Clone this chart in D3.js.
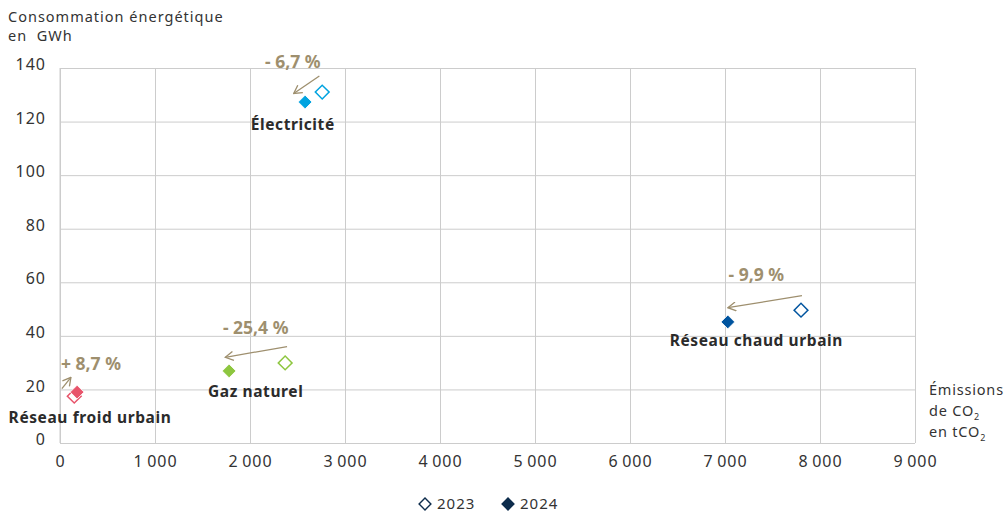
<!DOCTYPE html>
<html>
<head>
<meta charset="utf-8">
<script src="https://cdn.jsdelivr.net/npm/d3@7"></script>
<style>
  body { margin: 0; background: #fff; }
  svg text { font-family: "Noto Sans", "Open Sans", sans-serif; white-space: pre; }
</style>
</head>
<body>
<svg id="chart" width="1006" height="513"></svg>
<script>
// Energy sources and their values (x = CO2 emissions in tCO2, y = consumption in GWh)
var sources = ["Électricité", "Réseau chaud urbain", "Gaz naturel", "Réseau froid urbain"];
var colors = ["#00a3e0", "#00549f", "#8dc63f", "#e8546b"];
var emissions2023 = [2760, 7800, 2370, 150];
var consumption2023 = [131, 49.6, 29.9, 17.5];
var emissions2024 = [2580, 7030, 1780, 180];
var consumption2024 = [127.3, 45.2, 26.9, 19.0];
var changes = ["- 6,7 %", "- 9,9 %", "- 25,4 %", "+ 8,7 %"];
var xTicks = [0, 1000, 2000, 3000, 4000, 5000, 6000, 7000, 8000, 9000];
var yTicks = [0, 20, 40, 60, 80, 100, 120, 140];
var years = ["2023", "2024"];

// annotation arrows (data units): from -> to
var arrowFrom = [[2730, 137], [7810, 55], [2390, 36], [20, 20.3]];
var arrowTo = [[2460, 130.5], [7030, 50.5], [1740, 32], [115, 24.5]];
// name / change label positions (data units)
var nameAt = [[2450, 116.8], [7330, 36.1], [2060, 17.2], [316, 7.5]];
var changeAt = [[2450, 140], [7330, 60.6], [2060, 40.8], [326, 27.1]];

var svg = d3.select("#chart");
var plotLeft = 60, plotRight = 915, plotTop = 68, plotBottom = 443;

var x = d3.scaleLinear().domain([0, 9000]).range([plotLeft, plotRight]);
var y = d3.scaleLinear().domain([0, 140]).range([plotBottom, plotTop]);
var fmt = function(d) { return d3.format(",")(d).replace(",", "\u2009"); };

// grid
svg.append("g")
    .attr("transform", "translate(0," + plotBottom + ")")
    .call(d3.axisBottom(x).tickValues(xTicks).tickSize(-(plotBottom - plotTop)).tickFormat(fmt))
    .call(function(g) {
        g.select(".domain").remove();
        g.selectAll(".tick line").attr("stroke", "#cccccc");
        g.selectAll(".tick text").attr("y", 13).attr("dy", "0.71em").attr("font-size", 16)
            .attr("letter-spacing", 1).attr("fill", "#333");
    });

svg.append("g")
    .attr("transform", "translate(" + plotLeft + ",0)")
    .call(d3.axisLeft(y).tickValues(yTicks).tickSize(-(plotRight - plotLeft)))
    .call(function(g) {
        g.select(".domain").remove();
        g.selectAll(".tick line").attr("stroke", "#cccccc");
        g.selectAll(".tick text").attr("x", -14).attr("dy", "0.1em").attr("font-size", 16)
            .attr("letter-spacing", 1).attr("fill", "#333");
    });

svg.append("line").attr("x1", plotLeft).attr("x2", plotLeft).attr("y1", plotTop).attr("y2", plotBottom).attr("stroke", "#cccccc");

// axis titles
var yt = svg.append("text").attr("x", 8).attr("y", 22).attr("font-size", 14.5)
    .attr("letter-spacing", 1).attr("fill", "#333");
yt.append("tspan").attr("x", 8).text("Consommation énergétique");
yt.append("tspan").attr("x", 8).attr("dy", 19).text("en  GWh");

var xt = svg.append("text").attr("x", 929).attr("y", 395).attr("font-size", 14.5)
    .attr("letter-spacing", 0.8).attr("fill", "#333");
xt.append("tspan").attr("x", 929).text("Émissions");
xt.append("tspan").attr("x", 929).attr("dy", 21).text("de CO");
xt.append("tspan").attr("dy", 4).attr("font-size", 9).text("2");
xt.append("tspan").attr("x", 929).attr("dy", 17).text("en tCO");
xt.append("tspan").attr("dy", 4).attr("font-size", 9).text("2");

// arrows
var tan = "#9e8f6e";
svg.append("defs").append("marker")
    .attr("id", "arrow").attr("viewBox", "0 0 10 10")
    .attr("refX", 9).attr("refY", 5)
    .attr("markerWidth", 10).attr("markerHeight", 10)
    .attr("markerUnits", "userSpaceOnUse")
    .attr("orient", "auto")
    .append("path").attr("d", "M1,0.5 L9,5 L1,9.5")
    .attr("fill", "none").attr("stroke", tan).attr("stroke-width", 1.3);

svg.selectAll(".arr").data(sources).enter().append("line")
    .attr("class", "arr")
    .attr("x1", function(d, i) { return x(arrowFrom[i][0]); })
    .attr("y1", function(d, i) { return y(arrowFrom[i][1]); })
    .attr("x2", function(d, i) { return x(arrowTo[i][0]); })
    .attr("y2", function(d, i) { return y(arrowTo[i][1]); })
    .attr("stroke", tan).attr("stroke-width", 1.3)
    .attr("marker-end", "url(#arrow)");

// points (squares rotated 45° = diamonds)
var sq = d3.symbol().type(d3.symbolSquare).size(95);

svg.selectAll(".p23").data(sources).enter().append("path")
    .attr("class", "p23")
    .attr("d", sq)
    .attr("transform", function(d, i) { return "translate(" + x(emissions2023[i]) + "," + y(consumption2023[i]) + ") rotate(45)"; })
    .attr("fill", "#fff")
    .attr("stroke", function(d, i) { return colors[i]; })
    .attr("stroke-width", 1.5);

svg.selectAll(".p24").data(sources).enter().append("path")
    .attr("class", "p24")
    .attr("d", sq)
    .attr("transform", function(d, i) { return "translate(" + x(emissions2024[i]) + "," + y(consumption2024[i]) + ") rotate(45)"; })
    .attr("fill", function(d, i) { return colors[i]; })
    .attr("stroke", "#fff").attr("stroke-width", 0.8);

// labels
svg.selectAll(".name").data(sources).enter().append("text")
    .attr("class", "name")
    .attr("x", function(d, i) { return x(nameAt[i][0]); })
    .attr("y", function(d, i) { return y(nameAt[i][1]); })
    .attr("text-anchor", "middle")
    .attr("font-size", 15.5).attr("font-weight", "bold").attr("letter-spacing", 0.6).attr("fill", "#2b2b2b")
    .text(function(d) { return d; });

svg.selectAll(".chg").data(changes).enter().append("text")
    .attr("class", "chg")
    .attr("x", function(d, i) { return x(changeAt[i][0]); })
    .attr("y", function(d, i) { return y(changeAt[i][1]); })
    .attr("text-anchor", "middle")
    .attr("font-size", 17.5).attr("font-weight", "bold").attr("fill", tan)
    .text(function(d) { return d; });

// legend
var legend = svg.append("g").attr("transform", "translate(0,504)");
var lx = [425, 508];
legend.selectAll("path").data(years).enter().append("path")
    .attr("d", d3.symbol().type(d3.symbolSquare).size(70))
    .attr("transform", function(d, i) { return "translate(" + lx[i] + ",0) rotate(45)"; })
    .attr("fill", function(d, i) { return i == 0 ? "#fff" : "#0d2c4c"; })
    .attr("stroke", "#0d2c4c").attr("stroke-width", 1.4);
legend.selectAll("text").data(years).enter().append("text")
    .attr("x", function(d, i) { return lx[i] + 12; })
    .attr("y", 5)
    .attr("font-size", 15).attr("letter-spacing", 1).attr("fill", "#333")
    .text(function(d) { return d; });
</script>
</body>
</html>
